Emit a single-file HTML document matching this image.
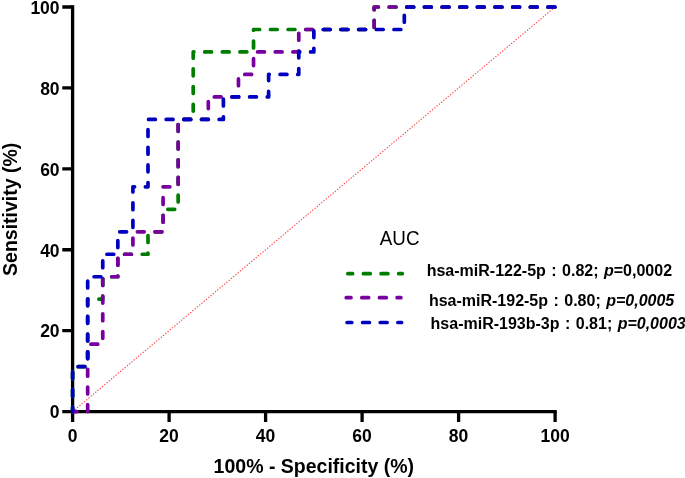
<!DOCTYPE html>
<html><head><meta charset="utf-8"><style>
html,body{margin:0;padding:0;background:#fff;width:685px;height:478px;overflow:hidden}
svg{display:block;will-change:transform}
text{font-family:"Liberation Sans",sans-serif}
.t{font-size:17.5px;font-weight:bold}
.ti{font-size:19.5px;font-weight:bold}
.auc{font-size:18.8px}
.lg{font-size:16px;font-weight:bold;word-spacing:1px}
</style></head><body>
<svg width="685" height="478" viewBox="0 0 685 478">
<path d="M72.60,5.35 V422.10 M62.30,411.60 H556.75" stroke="#000" stroke-width="3.3" fill="none"/>
<path d="M169.10,411.60 V422.10 M62.30,330.68 H72.60 M265.60,411.60 V422.10 M62.30,249.76 H72.60 M362.10,411.60 V422.10 M62.30,168.84 H72.60 M458.60,411.60 V422.10 M62.30,87.92 H72.60 M555.10,411.60 V422.10 M62.30,7.00 H72.60" stroke="#000" stroke-width="3.3" fill="none"/>
<polyline points="72.60,411.60 555.10,7.00" fill="none" stroke="#ff4646" stroke-width="1.1" stroke-dasharray="1.4 1.55"/>
<polyline points="72.60,411.60 72.60,366.64 87.68,366.64 87.68,299.21 102.76,299.21 102.76,276.73 117.83,276.73 117.83,254.26 147.99,254.26 147.99,231.78 163.07,231.78 163.07,209.30 178.15,209.30 178.15,119.39 193.22,119.39 193.22,51.96 253.54,51.96 253.54,29.48 374.16,29.48 374.16,7.00 555.10,7.00" fill="none" stroke="#007c00" stroke-width="3.7" stroke-dasharray="6.85 10.8" stroke-dashoffset="2.5" stroke-linecap="round" stroke-linejoin="round"/>
<polyline points="72.60,411.60 87.68,411.60 87.68,344.17 102.76,344.17 102.76,276.73 117.83,276.73 117.83,254.26 132.91,254.26 132.91,231.78 163.07,231.78 163.07,186.82 178.15,186.82 178.15,119.39 208.30,119.39 208.30,96.91 238.46,96.91 238.46,74.43 253.54,74.43 253.54,51.96 298.77,51.96 298.77,29.48 374.16,29.48 374.16,7.00 555.10,7.00" fill="none" stroke="#7800a0" stroke-width="3.7" stroke-dasharray="6.85 10.8" stroke-dashoffset="2.5" stroke-linecap="round" stroke-linejoin="round"/>
<polyline points="72.60,411.60 72.60,366.64 87.68,366.64 87.68,276.73 102.76,276.73 102.76,254.26 117.83,254.26 117.83,231.78 132.91,231.78 132.91,186.82 147.99,186.82 147.99,119.39 223.38,119.39 223.38,96.91 268.62,96.91 268.62,74.43 298.77,74.43 298.77,51.96 313.85,51.96 313.85,29.48 404.32,29.48 404.32,7.00 555.10,7.00" fill="none" stroke="#0000c0" stroke-width="3.7" stroke-dasharray="6.85 10.8" stroke-dashoffset="2.5" stroke-linecap="round" stroke-linejoin="round"/>
<text x="72.60" y="442" text-anchor="middle" class="t">0</text>
<text x="59.6" y="418.40" text-anchor="end" class="t">0</text>
<text x="169.10" y="442" text-anchor="middle" class="t">20</text>
<text x="59.6" y="337.48" text-anchor="end" class="t">20</text>
<text x="265.60" y="442" text-anchor="middle" class="t">40</text>
<text x="59.6" y="256.56" text-anchor="end" class="t">40</text>
<text x="362.10" y="442" text-anchor="middle" class="t">60</text>
<text x="59.6" y="175.64" text-anchor="end" class="t">60</text>
<text x="458.60" y="442" text-anchor="middle" class="t">80</text>
<text x="59.6" y="94.72" text-anchor="end" class="t">80</text>
<text x="555.10" y="442" text-anchor="middle" class="t">100</text>
<text x="59.6" y="13.80" text-anchor="end" class="t">100</text>
<text x="313.85" y="473.1" text-anchor="middle" class="ti">100% - Specificity (%)</text>
<text transform="translate(17.4,209.30) rotate(-90)" text-anchor="middle" class="ti">Sensitivity (%)</text>
<text transform="translate(379.8,245.3) scale(1,1.06)" class="auc">AUC</text>
<line x1="347.85" y1="273.7" x2="402.3" y2="273.7" stroke="#007c00" stroke-width="3.7" stroke-dasharray="6.85 10.8" stroke-dashoffset="2.1" stroke-linecap="round"/>
<text x="426.7" y="276.4" class="lg">hsa-miR-122-5p : 0.82; <tspan font-style="italic">p</tspan>=0,0002</text>
<line x1="346.25" y1="297.7" x2="400.9" y2="297.7" stroke="#7800a0" stroke-width="3.7" stroke-dasharray="6.85 10.8" stroke-dashoffset="2.1" stroke-linecap="round"/>
<text x="428.9" y="305.5" class="lg">hsa-miR-192-5p : 0.80; <tspan font-style="italic">p=0,0005</tspan></text>
<line x1="347.05" y1="322.5" x2="401.6" y2="322.5" stroke="#0000c0" stroke-width="3.7" stroke-dasharray="6.85 10.8" stroke-dashoffset="2.1" stroke-linecap="round"/>
<text x="430.6" y="329.2" class="lg">hsa-miR-193b-3p : 0.81; <tspan font-style="italic">p=0,0003</tspan></text>
</svg>
</body></html>
